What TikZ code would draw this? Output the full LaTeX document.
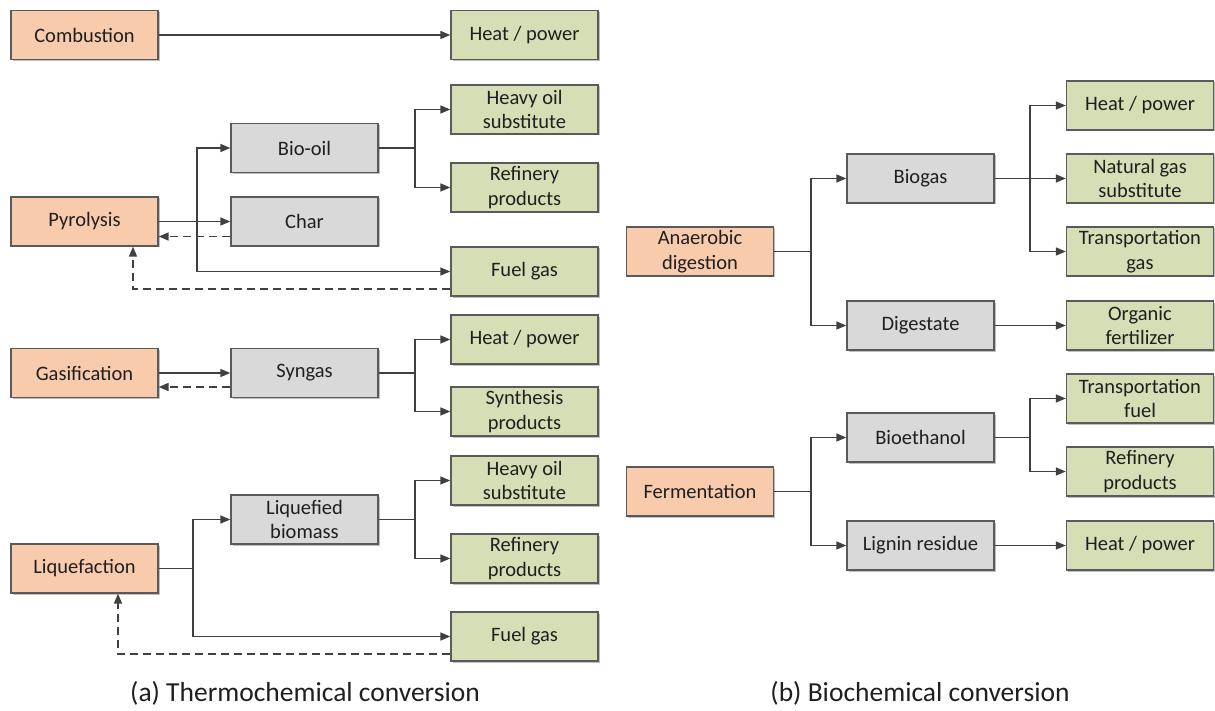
\documentclass[tikz,border=0pt]{standalone}
\usepackage{fontspec}
\setmainfont{Carlito}
\usetikzlibrary{arrows.meta,shadows}
\definecolor{ofill}{HTML}{F8CBAD}
\definecolor{gfill}{HTML}{D6DEB6}
\definecolor{mfill}{HTML}{D9D9D9}
\definecolor{bord}{HTML}{5A5A5A}
\definecolor{lcol}{HTML}{404040}
\begin{document}
\begin{tikzpicture}[x=1pt,y=-1pt,
  box/.style={draw=bord,line width=1.4pt,minimum width=147pt,minimum height=49pt,inner sep=0pt,
    align=center,font=\fontsize{20.5}{24.5}\selectfont,text=black!88,
    drop shadow={shadow xshift=1.5pt,shadow yshift=-1.5pt,fill=black,opacity=0.25}},
  obox/.style={box,fill=ofill},
  gbox/.style={box,fill=gfill},
  mbox/.style={box,fill=mfill},
  conn/.style={draw=lcol,line width=1.6pt,-{Triangle[length=10pt,width=8pt]}},
  dconn/.style={conn,dash pattern=on 8pt off 5pt},
  plain/.style={draw=lcol,line width=1.6pt},
  captxt/.style={font=\fontsize{27.5}{32}\selectfont,text=black!88}]
\useasboundingbox[fill=white] (0,0) rectangle (1215,711);

% ---------- (a) ----------
\node[obox] (comb) at (84.5,35) {Combustion};
\node[gbox] (hp1) at (524.5,35) {Heat / power};
\draw[conn] (comb) -- (hp1);

\node[obox] (pyro) at (84.5,221.5) {Pyrolysis};
\node[mbox] (biooil) at (304.5,148) {Bio-oil};
\node[mbox] (char) at (304.5,221.5) {Char};
\node[gbox] (hos1) at (524.5,109.5) {Heavy oil\\substitute};
\node[gbox] (ref1) at (524.5,187.5) {Refinery\\products};
\node[gbox] (fg1) at (524.5,271.5) {Fuel gas};
\coordinate (pj) at (197,221.5);
\draw[conn] (pyro) -- (char);
\draw[conn] (pj) |- (biooil.west);
\draw[conn] (pj) |- (fg1.west);
\draw[dconn] ([yshift=-15pt]char.west) -- ([yshift=-15pt]pyro.east);
\draw[dconn] ([yshift=-17.5pt]fg1.west) -| ([xshift=48.5pt]pyro.south);
\coordinate (bj) at (415,148);
\draw[plain] (biooil.east) -- (bj);
\draw[conn] (bj) |- (hos1.west);
\draw[conn] (bj) |- (ref1.west);

\node[obox] (gasi) at (84.5,373) {Gasification};
\node[mbox] (syn) at (304.5,373) {Syngas};
\node[gbox] (hp2) at (524.5,339.5) {Heat / power};
\node[gbox] (synp) at (524.5,411.5) {Synthesis\\products};
\draw[conn] (gasi) -- (syn);
\draw[dconn] ([yshift=-14pt]syn.west) -- ([yshift=-14pt]gasi.east);
\coordinate (sj) at (415,373);
\draw[plain] (syn.east) -- (sj);
\draw[conn] (sj) |- (hp2.west);
\draw[conn] (sj) |- (synp.west);

\node[obox] (liq) at (84.5,568.5) {Liquefaction};
\node[mbox] (lb) at (304.5,519.5) {Liquefied\\biomass};
\node[gbox] (hos2) at (524.5,480.5) {Heavy oil\\substitute};
\node[gbox] (ref2) at (524.5,558.5) {Refinery\\products};
\node[gbox] (fg2) at (524.5,636.5) {Fuel gas};
\coordinate (lj) at (193,568.5);
\draw[plain] (liq.east) -- (lj);
\draw[conn] (lj) |- (lb.west);
\draw[conn] (lj) |- (fg2.west);
\draw[dconn] ([yshift=-17.5pt]fg2.west) -| ([xshift=33.5pt]liq.south);
\coordinate (lbj) at (415,519.5);
\draw[plain] (lb.east) -- (lbj);
\draw[conn] (lbj) |- (hos2.west);
\draw[conn] (lbj) |- (ref2.west);

\node[captxt] (capa) at (305,693) {(a) Thermochemical conversion};

% ---------- (b) ----------
\node[obox] (ana) at (700,251.5) {Anaerobic\\digestion};
\node[mbox] (bgas) at (920.5,178.5) {Biogas};
\node[mbox] (dig) at (920.5,325.5) {Digestate};
\node[gbox] (hp3) at (1140,105.5) {Heat / power};
\node[gbox] (ngs) at (1140,178.5) {Natural gas\\substitute};
\node[gbox] (tg) at (1140,251.5) {Transportation\\gas};
\node[gbox] (of) at (1140,325.5) {Organic\\fertilizer};
\coordinate (aj) at (811,251.5);
\draw[plain] (ana.east) -- (aj);
\draw[conn] (aj) |- (bgas.west);
\draw[conn] (aj) |- (dig.west);
\coordinate (bgj) at (1030,178.5);
\draw[conn] (bgas) -- (ngs);
\draw[conn] (bgj) |- (hp3.west);
\draw[conn] (bgj) |- (tg.west);
\draw[conn] (dig) -- (of);

\node[obox] (ferm) at (700,491.5) {Fermentation};
\node[mbox] (beth) at (920.5,437.5) {Bioethanol};
\node[mbox] (lig) at (920.5,545.5) {Lignin residue};
\node[gbox] (tf) at (1140,398.5) {Transportation\\fuel};
\node[gbox] (ref3) at (1140,471.5) {Refinery\\products};
\node[gbox] (hp4) at (1140,545.5) {Heat / power};
\coordinate (fj) at (811,491.5);
\draw[plain] (ferm.east) -- (fj);
\draw[conn] (fj) |- (beth.west);
\draw[conn] (fj) |- (lig.west);
\coordinate (bej) at (1030,437.5);
\draw[plain] (beth.east) -- (bej);
\draw[conn] (bej) |- (tf.west);
\draw[conn] (bej) |- (ref3.west);
\draw[conn] (lig) -- (hp4);

\node[captxt] (capb) at (920,693) {(b) Biochemical conversion};
\end{tikzpicture}
\end{document}
